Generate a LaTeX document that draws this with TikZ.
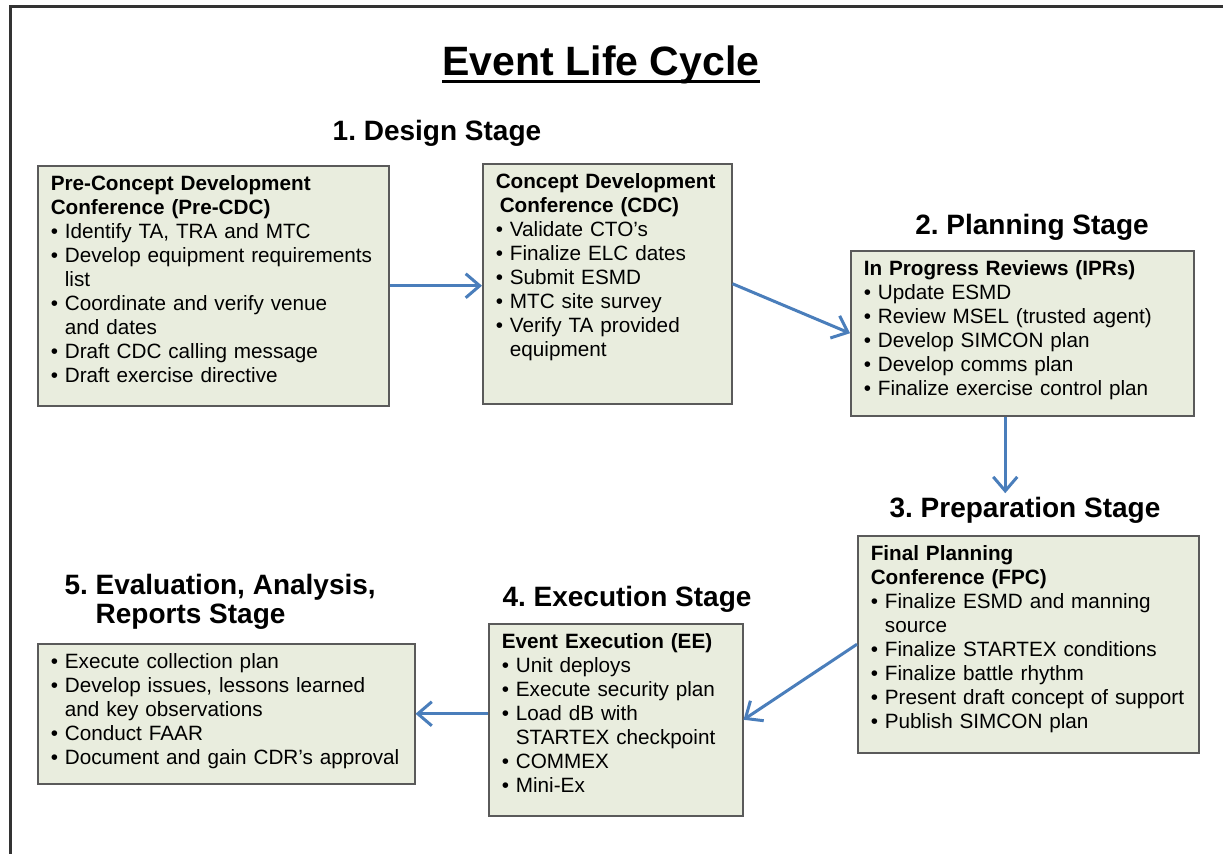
\documentclass[tikz,border=0pt]{standalone}
\usepackage{fontspec}
\setmainfont{Liberation Sans}
\usetikzlibrary{arrows.meta,shadows}
\definecolor{boxfill}{RGB}{233,237,222}
\definecolor{boxline}{RGB}{90,90,90}
\definecolor{flowblue}{RGB}{74,126,187}
\newcommand{\itm}{\textbullet\ }
\newcommand{\ind}{\hphantom{\textbullet\ }}
\frenchspacing

\begin{document}
\begin{tikzpicture}
[x=1pt,y=-1pt,%
  stagebox/.style={draw=boxline,line width=1.5pt,fill=boxfill,anchor=north west,align=left,%
    inner xsep=13pt,inner ysep=8pt,text height=17pt,font=\fontsize{20.7}{24}\selectfont,%
    drop shadow={shadow xshift=1.5pt,shadow yshift=-1.5pt,fill=black!35}},%
  stagehead/.style={font=\fontsize{28}{29}\selectfont\bfseries,anchor=base,align=left},%
  flow/.style={draw=flowblue,line width=3pt,-{Straight Barb[length=14pt,width=24pt]}}]
\useasboundingbox (0,0) rectangle (1223,854);
\draw[line width=3pt,black!80] (1223,6.5) -- (10.5,6.5) -- (10.5,854);

\node[font=\fontsize{41}{44}\selectfont\bfseries,anchor=base,inner sep=0pt] (title) at (601,75) {Event Life Cycle};
\draw[line width=3pt] ([yshift=-6pt]title.base west) -- ([yshift=-6pt]title.base east);

\node[stagehead] (design) at (437,140) {1. Design Stage};
\node[stagehead] (planning) at (1032,234) {2. Planning Stage};
\node[stagehead] (preparation) at (1025,517) {3. Preparation Stage};
\node[stagehead] (execution) at (627,606) {4. Execution Stage};
\node[stagehead,anchor=base west] (evaluation) at (61,623) {5. Evaluation, Analysis,\\ \hphantom{5. }Reports Stage};

\node[stagebox,text width=325pt,text depth=207pt] (precdc) at (37,165) {%
  \textbf{Pre-Concept Development}\\
  \textbf{Conference (Pre-CDC)}\\
  \itm Identify TA, TRA and MTC\\
  \itm Develop equipment requirements\\
  \ind list\\
  \itm Coordinate and verify venue\\
  \ind and dates\\
  \itm Draft CDC calling message\\
  \itm Draft exercise directive};
\node[stagebox,text width=223pt,text depth=207pt] (cdc) at (482,163) {%
  \textbf{Concept Development}\\
  \hspace*{4pt}\textbf{Conference (CDC)}\\
  \itm Validate CTO's\\
  \itm Finalize ELC dates\\
  \itm Submit ESMD\\
  \itm MTC site survey\\
  \itm Verify TA provided\\
  \ind equipment};
\node[stagebox,text width=317pt,text depth=132pt] (ipr) at (850,250) {%
  \textbf{In Progress Reviews (IPRs)}\\
  \itm Update ESMD\\
  \itm Review MSEL (trusted agent)\\
  \itm Develop SIMCON plan\\
  \itm Develop comms plan\\
  \itm Finalize exercise control plan};
\node[stagebox,text width=315pt,text depth=184pt] (fpc) at (857,535) {%
  \textbf{Final Planning}\\
  \textbf{Conference (FPC)}\\
  \itm Finalize ESMD and manning\\
  \ind source\\
  \itm Finalize STARTEX conditions\\
  \itm Finalize battle rhythm\\
  \itm Present draft concept of support\\
  \itm Publish SIMCON plan};
\node[stagebox,text width=228pt,text depth=159pt] (ee) at (488,623) {%
  \textbf{Event Execution (EE)}\\
  \itm Unit deploys\\
  \itm Execute security plan\\
  \itm Load dB with\\
  \ind STARTEX checkpoint\\
  \itm COMMEX\\
  \itm Mini-Ex};
\node[stagebox,text width=351pt,text depth=107pt] (ear) at (37,643) {%
  \itm Execute collection plan\\
  \itm Develop issues, lessons learned\\
  \ind and key observations\\
  \itm Conduct FAAR\\
  \itm Document and gain CDR's approval};

\draw[flow] (precdc.east) -- (precdc.east -| cdc.west);
\draw[flow] (cdc.east) -- (ipr.west);
\draw[flow] ([xshift=-17pt]ipr.south) -- ([xshift=-17pt]ipr.south |- preparation.north);
\draw[flow] (fpc.west) -- (ee.east);
\draw[flow] (ear.east -| ee.west) -- (ear.east);
\end{tikzpicture}
\end{document}
